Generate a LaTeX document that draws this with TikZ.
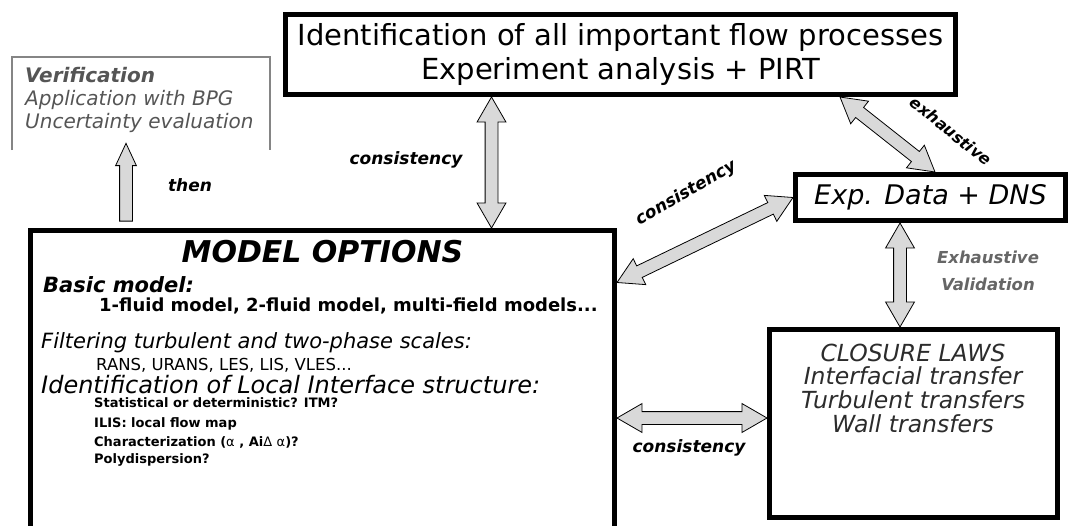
\documentclass[tikz,border=0pt]{standalone}
\usepackage{fontspec}
\setmainfont{DejaVu Sans}[
  BoldFont={DejaVu Sans Bold},
  ItalicFont={DejaVu Sans Oblique},
  BoldItalicFont={DejaVu Sans Bold Oblique}]
\usepackage{tikz}
\usetikzlibrary{calc,shapes.arrows}
\definecolor{arrowfill}{HTML}{D9D9D9}
\definecolor{notetext}{HTML}{555555}
\definecolor{noteline}{HTML}{858585}
\definecolor{lawtext}{HTML}{2C2C2C}
\definecolor{validtext}{HTML}{666666}
\newcommand{\pxsize}[2]{\fontsize{#1}{#2}\selectfont}
% fat arrow node stretched between two points
\newcommand{\fatlink}[3]{%
  \path let \p1=(#2), \p2=(#3),
    \n1={atan2(\y2-\y1,\x2-\x1)}, \n2={veclen(\x2-\x1,\y2-\y1)} in
    node[#1, minimum height=\n2, rotate=\n1] at ($(\p1)!0.5!(\p2)$) {};}
\tikzset{
heavy box/.style={draw=black, line width=5pt, fill=white, inner sep=0pt},
note line/.style={draw=noteline, line width=1.6pt},
fat double/.style={
  double arrow, draw=black, line width=0.8pt, fill=arrowfill,
  inner sep=0pt, inner ysep=6pt,
  double arrow head extend=8pt, double arrow tip angle=60
},
fat single/.style={
  single arrow, draw=black, line width=0.8pt, fill=arrowfill,
  inner sep=0pt, inner ysep=6pt,
  single arrow head extend=4pt, single arrow tip angle=50
},
link label/.style={font=\bfseries\itshape\pxsize{17}{20}, inner sep=0pt},
head line/.style={anchor=west, inner sep=0pt, font=\itshape\pxsize{21}{24}},
sub line/.style={anchor=west, inner sep=0pt, font=\bfseries\pxsize{18}{21}},
small line/.style={anchor=west, inner sep=0pt, font=\bfseries\pxsize{13}{16}}
}

\begin{document}
\begin{tikzpicture}[x=1pt,y=-1pt]
\useasboundingbox (0,0) rectangle (1070,525);
\clip (0,0) rectangle (1070,525);

% boxes
\node[heavy box, minimum width=670, minimum height=80, align=center,
  font=\pxsize{29}{34}] (flows) at (620.5,54.5)
  {Identification of all important flow processes\\Experiment analysis + PIRT};
\node[heavy box, minimum width=584, minimum height=320] (model) at (322.5,390.5) {};
\node[heavy box, minimum width=270, minimum height=46,
  font=\itshape\pxsize{27}{30}] (data) at (930.5,197.5) {Exp. Data + DNS};
\node[heavy box, minimum width=288, minimum height=188] (laws) at (913.5,423.5) {};
\node[minimum width=258, minimum height=93, inner sep=0pt] (verif) at (141,103.5) {};
\draw[note line] (verif.south west) -- (verif.north west) -- (verif.north east) -- (verif.south east);

% verification notes
\node[anchor=west, align=left, inner sep=0pt, text=notetext,
  font=\itshape\pxsize{20}{23}] (veriftext) at (25,100)
  {\textbf{Verification}\\Application with BPG\\Uncertainty evaluation};

% model options
\node[inner sep=0pt, font=\bfseries\itshape\pxsize{30}{34}] (modeltitle) at (322.5,252) {MODEL OPTIONS};
\node[head line] (basic) at (43,285) {\bfseries Basic model:};
\node[sub line] (fluid) at (99,306) {1-fluid model, 2-fluid model, multi-field models...};
\node[head line] (filter) at (41,343) {Filtering turbulent and two-phase scales:};
\node[sub line, font=\mdseries\pxsize{16.5}{20}] (rans) at (96,365) {RANS, URANS, LES, LIS, VLES...};
\node[head line, font=\itshape\pxsize{24}{26}] (ident) at (41,385) {Identification of Local Interface structure:};
\node[small line] (stat) at (94,403) {Statistical or deterministic? ITM?};
\node[small line] (ilis) at (94,424) {ILIS: local flow map};
\node[small line] (charac) at (94,442) {Characterization (\textmd{α} , Ai\textmd{Δ} \textmd{α})?};
\node[small line] (poly) at (94,460) {Polydispersion?};

% closure laws
\node[inner sep=0pt, align=center, text=lawtext, font=\itshape\pxsize{23.5}{23.7}] (lawlist) at (913,388)
  {CLOSURE LAWS\\Interfacial transfer\\Turbulent transfers\\Wall transfers};

% arrows
\coordinate (thenfoot) at ([xshift=98pt]model.north west);
\coordinate (modeltop) at ([xshift=463.5pt]model.north west);
\coordinate (modelside) at ([yshift=-54.5pt]model.north east);
\coordinate (flowsfoot) at ([xshift=219.5pt]flows.south);
\coordinate (datatop) at ([xshift=4.5pt]data.north);
\coordinate (lawstop) at ([xshift=-13.5pt]laws.north);
\coordinate (lawsside) at ([yshift=5.5pt]laws.west);
\fatlink{fat single}{thenfoot}{thenfoot |- verif.south}
\fatlink{fat double}{flows.south -| modeltop}{modeltop}
\fatlink{fat double}{modelside}{data.west}
\fatlink{fat double}{flowsfoot}{datatop}
\fatlink{fat double}{data.south -| lawstop}{lawstop}
\fatlink{fat double}{model.east |- lawsside}{lawsside}

% labels
\node[link label] (thenlabel) at (190,185) {then};
\node[link label] (conslabel) at (406,160) {consistency};
\node[link label, rotate=30] (diaglabel) at (686,193) {consistency};
\node[link label, rotate=-39, font=\bfseries\itshape\pxsize{16}{19}] (exhlabel) at (951,131) {exhaustive};
\node[link label, align=center, text=validtext, font=\bfseries\itshape\pxsize{16.5}{27}] (validlabel) at (988,271) {Exhaustive\\Validation};
\node[link label] (sidelabel) at (689,448) {consistency};
\end{tikzpicture}
\end{document}
